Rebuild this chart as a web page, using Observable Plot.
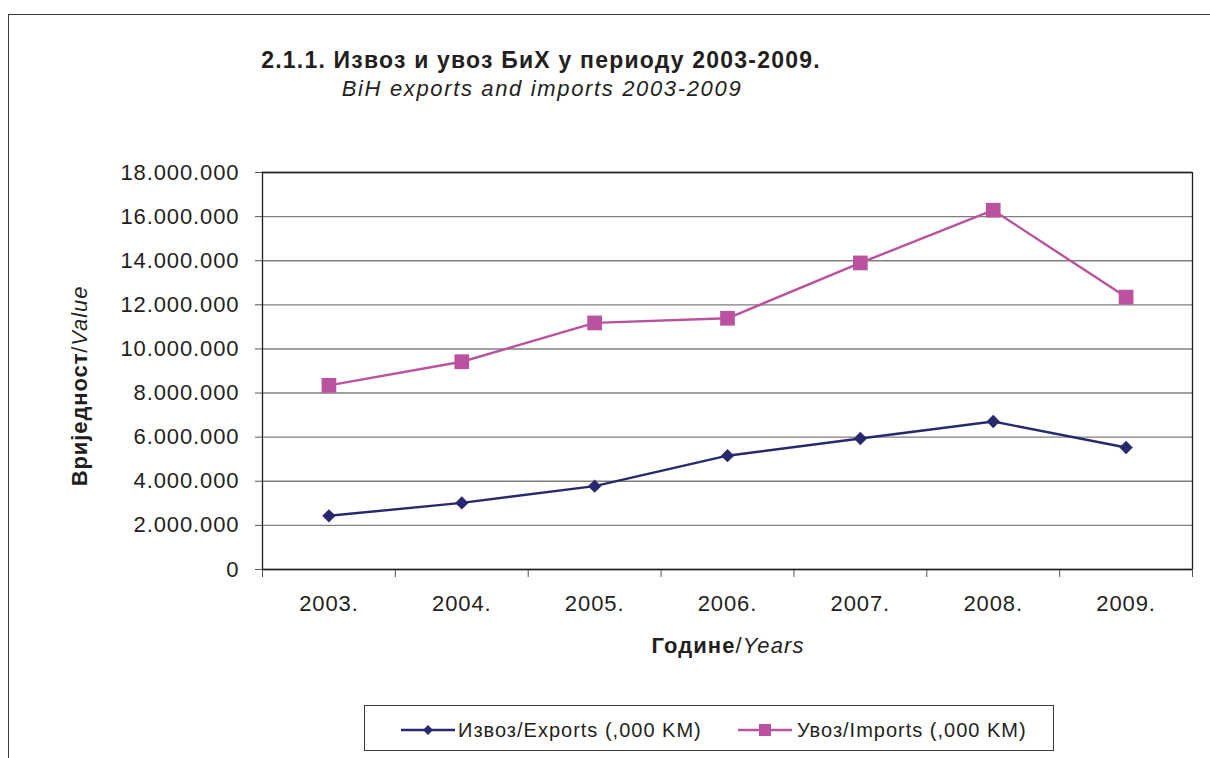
<!DOCTYPE html>
<html>
<head>
<meta charset="utf-8">
<script src="https://cdn.jsdelivr.net/npm/d3@7"></script>
<script src="https://cdn.jsdelivr.net/npm/@observablehq/plot@0.6"></script>
<style>
  html, body { margin: 0; padding: 0; background: #fff; }
  body { width: 1210px; height: 758px; overflow: hidden; position: relative;
         font-family: "Liberation Sans", Arial, Helvetica, sans-serif; color: #231f20; }
  .abs { position: absolute; white-space: nowrap; }
  .frame { position: absolute; left: 8px; top: 14px; width: 1300px; height: 900px;
           border-top: 1px solid #3a3a3a; border-left: 1px solid #3a3a3a; }
  #title { left: 541px; top: 60px; transform: translate(-50%, -50%); font-size: 23px; font-weight: bold; letter-spacing: 1.2px; line-height: 1; }
  #subtitle { left: 542px; top: 89px; transform: translate(-50%, -50%); font-size: 22px; font-style: italic; letter-spacing: 1.65px; line-height: 1; }
  #ytitle { left: 80px; top: 386px; transform: translate(-50%, -50%) rotate(-90deg); font-size: 22px; letter-spacing: 0.9px; line-height: 1; }
  #xtitle { left: 728px; top: 646px; transform: translate(-50%, -50%); font-size: 22px; letter-spacing: 1.1px; line-height: 1; }
  #chart { position: absolute; left: 0; top: 150px; }
  #chart svg text { letter-spacing: 0.9px; }
  #legend { position: absolute; left: 364px; top: 705px; width: 688px; height: 44px; border: 1px solid #3a3a3a; }
  .lgsw { position: absolute; top: 13px; }
  .lgtx { position: absolute; top: 24px; transform: translateY(-50%); font-size: 20px; letter-spacing: 1.0px; line-height: 1; white-space: nowrap; }
</style>
</head>
<body>
<div class="frame"></div>
<div class="abs" id="title">2.1.1. Извоз и увоз БиХ у периоду 2003-2009.</div>
<div class="abs" id="subtitle">BiH exports and imports 2003-2009</div>
<div class="abs" id="ytitle"><b>Вриједност</b>/<i>Value</i></div>
<div class="abs" id="xtitle"><b>Године</b>/<i>Years</i></div>
<div id="chart"></div>
<div id="legend"></div>
<script>
// ---- data ----
const years = [2003, 2004, 2005, 2006, 2007, 2008, 2009];
const exportsVals = [2434000, 3020000, 3780000, 5160000, 5940000, 6710000, 5530000];
const importsVals = [8350000, 9420000, 11180000, 11390000, 13900000, 16290000, 12350000];
const seriesNames = ["Извоз/Exports (,000 KM)", "Увоз/Imports (,000 KM)"];
const seriesColors = ["#28286f", "#ba529f"];
const seriesSymbols = ["diamond2", "square"];
const yTicks = [0, 2000000, 4000000, 6000000, 8000000, 10000000, 12000000, 14000000, 16000000, 18000000];

const data = years.flatMap((yr, i) => [
  {year: yr, value: exportsVals[i], series: seriesNames[0]},
  {year: yr, value: importsVals[i], series: seriesNames[1]}
]);
const boundaries = years.map(y => y - 0.5).concat([years[years.length - 1] + 0.5]);
const xDomain = [boundaries[0], boundaries[boundaries.length - 1]];
const yDomain = [yTicks[0], yTicks[yTicks.length - 1]];
const fmt = d => d3.format(",")(d).replace(/,/g, ".");

const chart = Plot.plot({
  width: 1210,
  height: 520,
  marginTop: 22,
  marginBottom: 101,
  marginLeft: 262,
  marginRight: 18,
  style: {fontFamily: '"Liberation Sans", Arial, sans-serif', fontSize: "22px", color: "#231f20", background: "transparent", overflow: "visible"},
  x: {type: "linear", domain: xDomain},
  y: {domain: yDomain},
  color: {domain: seriesNames, range: seriesColors},
  marks: [
    Plot.gridY(yTicks, {stroke: "#7f7f7f", strokeOpacity: 1, strokeWidth: 1.4}),
    Plot.axisY(yTicks, {tickSize: 7, tickPadding: 16, tickFormat: fmt, stroke: "#555", fill: "#231f20", fontSize: 22, label: null}),
    Plot.axisX(boundaries, {tickSize: 8, tickFormat: () => "", stroke: "#555", label: null}),
    Plot.axisX(years, {tickSize: 0, tickPadding: 26, tickFormat: d => d + ".", fill: "#231f20", fontSize: 22, label: null}),
    Plot.ruleY([yDomain[0], yDomain[1]], {stroke: "#231f20", strokeWidth: 1.3}),
    Plot.ruleX([xDomain[0], xDomain[1]], {stroke: "#231f20", strokeWidth: 1.3}),
    Plot.line(data, {x: "year", y: "value", z: "series", stroke: "series", strokeWidth: 2.4}),
    Plot.dot(data.filter(d => d.series === seriesNames[0]), {x: "year", y: "value", symbol: () => seriesSymbols[0], fill: "series", r: 6, stroke: "none"}),
    Plot.dot(data.filter(d => d.series === seriesNames[1]), {x: "year", y: "value", symbol: () => seriesSymbols[1], fill: "series", r: 8.3, stroke: "none"})
  ]
});
document.getElementById("chart").appendChild(chart);

// ---- legend ----
const legend = d3.select("#legend");
const lgPos = [{sw: 36, tx: 93}, {sw: 373, tx: 432}];
const symDefs = [
  {type: d3.symbolDiamond2, size: 64},
  {type: d3.symbolSquare, size: 144}
];
seriesNames.forEach((name, i) => {
  const svg = legend.append("svg").attr("class", "lgsw")
    .attr("width", 54).attr("height", 22)
    .style("left", lgPos[i].sw + "px");
  svg.append("line").attr("x1", 0).attr("x2", 54).attr("y1", 11).attr("y2", 11)
    .attr("stroke", seriesColors[i]).attr("stroke-width", 2.6);
  svg.append("path").attr("transform", "translate(27,11)")
    .attr("d", d3.symbol(symDefs[i].type, symDefs[i].size)())
    .attr("fill", seriesColors[i]);
  legend.append("div").attr("class", "lgtx").style("left", lgPos[i].tx + "px").text(name);
});
</script>
</body>
</html>
